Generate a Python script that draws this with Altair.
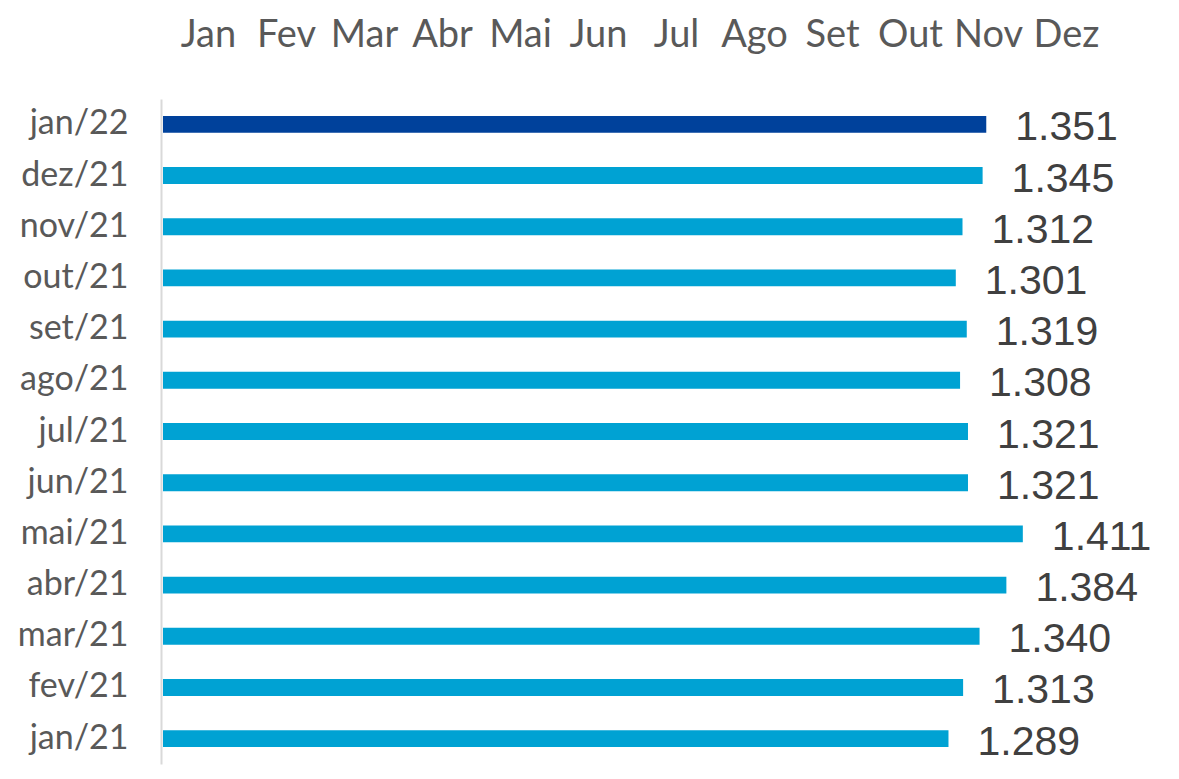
import altair as alt
import pandas as pd

categories = ["jan/22", "dez/21", "nov/21", "out/21", "set/21", "ago/21", "jul/21",
              "jun/21", "mai/21", "abr/21", "mar/21", "fev/21", "jan/21"]
values = [1351, 1345, 1312, 1301, 1319, 1308, 1321, 1321, 1411, 1384, 1340, 1313, 1289]
labels = ["1.351", "1.345", "1.312", "1.301", "1.319", "1.308", "1.321", "1.321",
          "1.411", "1.384", "1.340", "1.313", "1.289"]
highlight = ["sim"] + ["não"] * 12
months = ["Jan", "Fev", "Mar", "Abr", "Mai", "Jun", "Jul", "Ago", "Set", "Out", "Nov", "Dez"]

df = pd.DataFrame({"mes": categories, "valor": values, "rotulo": labels, "destaque": highlight})
dm = pd.DataFrame({"m": months})

W, H = 975, 665

y_enc = alt.Y("mes:N", sort=categories, title=None,
              scale=alt.Scale(paddingInner=0.67, paddingOuter=0.33),
              axis=alt.Axis(ticks=False, domain=True, domainColor="#D9D9D9", domainWidth=2,
                            labelFont="Lato", labelFontSize=34, labelColor="#595959",
                            labelPadding=33, grid=False))
x_enc = alt.X("valor:Q", scale=alt.Scale(domain=[0, 1600], range=[2, 977], nice=False), axis=None)

bars = alt.Chart(df).mark_bar().encode(
    x=x_enc, y=y_enc,
    color=alt.Color("destaque:N", scale=alt.Scale(domain=["sim", "não"], range=["#00419B", "#00A2D3"]),
                    legend=None),
)
text = alt.Chart(df).mark_text(align="left", baseline="middle", dx=29, dy=4,
                               font="Liberation Sans", fontSize=41, color="#404040").encode(
    x=x_enc, y=alt.Y("mes:N", sort=categories), text="rotulo:N")

base = bars + text

mon = alt.Chart(dm).mark_point(opacity=0).encode(
    x=alt.X("m:N", sort=months, title=None,
            scale=alt.Scale(range=[8, 944], paddingInner=0, paddingOuter=0),
            axis=alt.Axis(orient="top", ticks=False, tickSize=0, domain=False, grid=False,
                          labelAngle=0, labelFont="Lato", labelFontSize=38, labelColor="#595959",
                          labelBaseline="alphabetic", labelPadding=53))
)

chart = alt.layer(base, mon).resolve_scale(x="independent").resolve_axis(x="independent").properties(
    width=W, height=H, autosize=alt.AutoSizeParams(type="none"),
    padding={"left": 153, "top": 91, "right": 35, "bottom": 6}
).configure_view(stroke=None)

chart.save("out.html", embed_options={"renderer": "svg", "actions": False})
